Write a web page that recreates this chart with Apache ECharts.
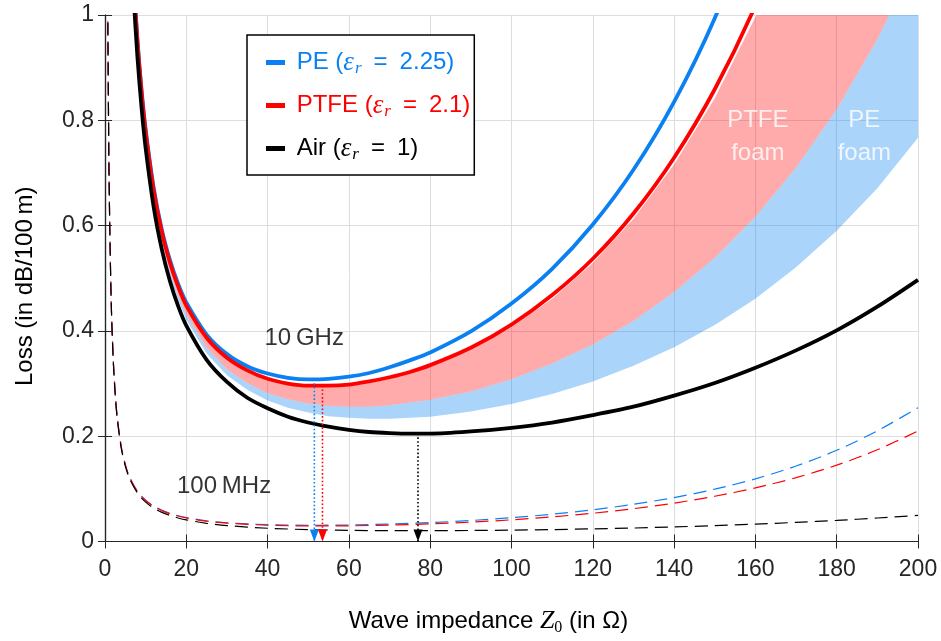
<!DOCTYPE html>
<html>
<head>
<meta charset="utf-8">
<script src="https://cdn.jsdelivr.net/npm/echarts/dist/echarts.min.js"></script>
<style>
  html, body { margin: 0; padding: 0; background: #fff; }
  #chart { width: 941px; height: 641px; }
</style>
</head>
<body>
<div id="chart"></div>
<script>
// Coaxial line attenuation versus wave impedance, solid dielectrics, foams and air.

// 10 GHz curves (solid)
const impedance10 = [7, 8, 9, 10, 12, 14, 16, 18, 20, 25, 30, 35, 40, 45, 50, 55, 60, 65, 70, 75, 80,
  90, 100, 110, 120, 130, 140, 150, 160, 170, 180, 190, 200];
const lossPE10 = [1.073, 0.951, 0.857, 0.783, 0.671, 0.592, 0.534, 0.489, 0.454, 0.393, 0.356, 0.333,
  0.319, 0.311, 0.308, 0.309, 0.313, 0.320, 0.331, 0.344, 0.359, 0.399, 0.452, 0.518, 0.602, 0.706,
  0.835, 0.994, 1.190, 1.433, 1.732, 2.102, 2.559];
const lossPTFE10 = [1.068, 0.947, 0.853, 0.778, 0.666, 0.587, 0.529, 0.484, 0.448, 0.387, 0.349, 0.325,
  0.309, 0.300, 0.296, 0.296, 0.298, 0.304, 0.312, 0.322, 0.335, 0.368, 0.412, 0.468, 0.537, 0.623,
  0.729, 0.859, 1.018, 1.212, 1.450, 1.742, 2.099];
const lossAir10 = [1.039, 0.918, 0.823, 0.747, 0.634, 0.554, 0.494, 0.447, 0.410, 0.345, 0.303, 0.273,
  0.253, 0.237, 0.226, 0.218, 0.212, 0.208, 0.206, 0.205, 0.205, 0.209, 0.216, 0.226, 0.240, 0.256,
  0.277, 0.301, 0.330, 0.363, 0.401, 0.446, 0.497];

// 100 MHz curves (dashed)
const impedance100 = [0.7, 1, 1.5, 2, 2.5, 3, 4, 5, 6, 8, 10, 12, 14, 16, 18, 20, 25, 30, 40, 50, 60,
  70, 80, 90, 100, 110, 120, 130, 140, 150, 160, 170, 180, 190, 200];
const lossPE100 = [0.988, 0.694, 0.466, 0.351, 0.283, 0.237, 0.180, 0.146, 0.123, 0.0951, 0.0783,
  0.0671, 0.0592, 0.0534, 0.0489, 0.0454, 0.0393, 0.0356, 0.0319, 0.0308, 0.0313, 0.0331, 0.0359,
  0.0399, 0.0452, 0.0518, 0.0602, 0.0706, 0.0835, 0.0994, 0.1190, 0.1433, 0.1732, 0.2102, 0.2540];
const lossPTFE100 = [0.987, 0.694, 0.465, 0.351, 0.283, 0.237, 0.180, 0.146, 0.123, 0.0947, 0.0778,
  0.0666, 0.0587, 0.0528, 0.0484, 0.0448, 0.0387, 0.0349, 0.0309, 0.0296, 0.0298, 0.0312, 0.0335,
  0.0368, 0.0412, 0.0468, 0.0537, 0.0623, 0.0729, 0.0859, 0.1018, 0.1212, 0.1450, 0.1742, 0.2099];
const lossAir100 = [0.985, 0.691, 0.463, 0.348, 0.280, 0.234, 0.177, 0.143, 0.120, 0.0918, 0.0747,
  0.0634, 0.0554, 0.0494, 0.0447, 0.0410, 0.0345, 0.0302, 0.0252, 0.0226, 0.0212, 0.0206, 0.0205,
  0.0209, 0.0216, 0.0226, 0.0240, 0.0256, 0.0277, 0.0301, 0.0330, 0.0363, 0.0401, 0.0446, 0.0497];

// Foam bands at 10 GHz: lower PE-foam edge, PE/PTFE foam boundary, upper PTFE-foam edge
const impedanceFoam = [6, 7, 8, 9, 10, 12, 14, 16, 18, 20, 25, 30, 35, 40, 45, 50, 55, 60, 65, 70, 80,
  90, 100, 110, 120, 130, 140, 150, 160, 170, 180, 190, 200];
const foamLow = [1.211, 1.048, 0.926, 0.832, 0.757, 0.644, 0.564, 0.504, 0.458, 0.421, 0.357, 0.316,
  0.288, 0.268, 0.254, 0.245, 0.238, 0.235, 0.233, 0.233, 0.237, 0.247, 0.261, 0.280, 0.304, 0.334,
  0.369, 0.411, 0.461, 0.521, 0.590, 0.671, 0.767];
const foamMid = [1.218, 1.056, 0.934, 0.840, 0.764, 0.652, 0.572, 0.513, 0.467, 0.431, 0.368, 0.327,
  0.301, 0.282, 0.270, 0.262, 0.258, 0.256, 0.256, 0.259, 0.269, 0.285, 0.308, 0.338, 0.374, 0.419,
  0.474, 0.539, 0.617, 0.710, 0.821, 0.954, 1.111];
const foamHigh = [1.230, 1.068, 0.947, 0.853, 0.778, 0.666, 0.587, 0.528, 0.483, 0.447, 0.386, 0.348,
  0.324, 0.308, 0.299, 0.295, 0.294, 0.296, 0.301, 0.309, 0.332, 0.364, 0.407, 0.461, 0.529, 0.613,
  0.716, 0.842, 0.996, 1.185, 1.415, 1.697, 2.042];

// Loss minima (optimum impedance) at 10 GHz
const materials = ['PE', 'PTFE', 'Air'];
const epsR = ['2.25', '2.1', '1'];
const minImpedance = [51.5, 53.5, 77];
const minLoss = [0.308, 0.296, 0.205];

// In-plot annotations
const noteText = ['10\u2009GHz', '100\u2009MHz', 'PTFE\nfoam', 'PE\nfoam'];
const noteImpedance = [49, 29.3, 160.6, 186.8];
const noteLoss = [0.385, 0.104, 0.768, 0.768];

const BLUE = '#0a80f2', RED = '#ff0000', BLACK = '#000000';
const colors = [BLUE, RED, BLACK];
const noteColors = ['#000', '#000', '#fff', '#fff'];
const TEXT = '#262626';
const SANS = 'Liberation Sans, Arial, Helvetica, sans-serif';
const SERIF = 'Liberation Serif, Times New Roman, serif';

const pairs = (xs, ys) => xs.map((x, i) => [x, ys[i]]);

const chart = echarts.init(document.getElementById('chart'), null, { renderer: 'canvas' });

// legend rich-text styles, one set per material colour
const legendRich = {};
colors.forEach((c, i) => {
  legendRich['t' + i] = { color: c, fontFamily: SANS, fontSize: 24, lineHeight: 27 };
  legendRich['m' + i] = { color: c, fontFamily: SERIF, fontStyle: 'italic', fontSize: 27, lineHeight: 27 };
  legendRich['s' + i] = { color: c, fontFamily: SERIF, fontStyle: 'italic', fontSize: 17, lineHeight: 17, padding: [12, 0, 0, 1] };
});

// filled band between two edges, drawn through the cartesian coordinate system
function bandItem(lower, upper, fill) {
  return function (params, api) {
    const pts = [];
    impedanceFoam.forEach((z, i) => pts.push(api.coord([z, upper[i]])));
    for (let i = impedanceFoam.length - 1; i >= 0; i--) pts.push(api.coord([impedanceFoam[i], lower[i]]));
    const cs = params.coordSys;
    return {
      type: 'polygon',
      shape: { points: pts },
      style: { fill: fill, stroke: null },
      clipPath: { type: 'rect', shape: { x: cs.x, y: cs.y, width: cs.width, height: cs.height } }
    };
  };
}

const series = [
  { type: 'custom', name: 'PE foam', renderItem: bandItem(foamLow, foamMid, 'rgba(10,128,242,0.34)'),
    data: [[0, 0]], silent: true, z: 1 },
  { type: 'custom', name: 'PTFE foam', renderItem: bandItem(foamMid, foamHigh, 'rgba(255,0,0,0.33)'),
    data: [[0, 0]], silent: true, z: 1 }
];

// 100 MHz dashed curves
[[lossPE100, BLUE, 'PE 100 MHz'], [lossPTFE100, RED, 'PTFE 100 MHz'], [lossAir100, BLACK, 'Air 100 MHz']]
  .forEach(([ys, c, n]) => series.push({
    type: 'line', name: n, data: pairs(impedance100, ys), symbol: 'none', smooth: 0.3,
    lineStyle: { color: c, width: 1.2, type: [13, 7] }, itemStyle: { color: c }, z: 3, silent: true
  }));

// 10 GHz solid curves
[lossPE10, lossPTFE10, lossAir10].forEach((ys, i) => series.push({
  type: 'line', name: materials[i], data: pairs(impedance10, ys), symbol: 'none', smooth: 0.3,
  lineStyle: { color: colors[i], width: 3.8 }, itemStyle: { color: colors[i] }, z: 4, silent: true
}));

// dotted drop lines from each minimum down to the axis
const arrowHead = 'path://M0,0L10,0L5,12Z';
minImpedance.forEach((z, i) => series.push({
  type: 'line', name: materials[i] + ' optimum', clip: false, silent: true, z: 5,
  data: [
    { value: [z, minLoss[i]], symbol: 'none' },
    { value: [z, 0], symbol: arrowHead, symbolSize: [9, 12], symbolOffset: [0, '-50%'] }
  ],
  showSymbol: true, symbol: arrowHead,
  lineStyle: { color: colors[i], width: 1.6, type: [1.6, 2.2] },
  itemStyle: { color: colors[i] }
}));

// text annotations placed in data coordinates
series.push({
  type: 'scatter', name: 'notes', symbolSize: 0, silent: true, z: 6,
  data: noteText.map((t, i) => ({
    value: [noteImpedance[i], noteLoss[i]],
    label: { show: true, position: 'inside', formatter: t, color: noteColors[i],
      fontFamily: SANS, fontSize: 24, lineHeight: 33 }
  }))
});

const axisLine = { show: true, lineStyle: { color: TEXT, width: 1.2 } };
const axisTickIn = { show: true, inside: true, length: 7, lineStyle: { color: TEXT, width: 1 } };

chart.setOption({
  animation: false,
  backgroundColor: '#fff',
  grid: { left: 105, right: 23, top: 15, bottom: 99, containLabel: false },
  legend: {
    orient: 'vertical', left: 247, top: 35,
    data: materials.map(m => ({ name: m })),
    icon: 'rect', itemWidth: 19, itemHeight: 5, itemGap: 14,
    padding: [13, 4, 12, 19],
    borderColor: '#000', borderWidth: 1.5, borderRadius: 0,
    backgroundColor: '#fff',
    selectedMode: false,
    formatter: name => {
      const i = materials.indexOf(name);
      return `{t${i}| ${name} (}{m${i}|ε}{s${i}|r}{t${i}|\u2002=\u2002${epsR[i]})}`;
    },
    textStyle: { fontFamily: SANS, fontSize: 24, rich: legendRich }
  },
  xAxis: [
    {
      type: 'value', min: 0, max: 200, interval: 20, position: 'bottom',
      name: '{t|Wave impedance }{m|Z}{s|0}{t| (in Ω)}',
      nameLocation: 'middle', nameGap: 65,
      nameTextStyle: {
        padding: [0, 46, 0, 0],
        rich: {
          t: { fontFamily: SANS, fontSize: 24, color: '#000', lineHeight: 30 },
          m: { fontFamily: SERIF, fontStyle: 'italic', fontSize: 26, color: '#000', lineHeight: 30 },
          s: { fontFamily: SERIF, fontSize: 16, color: '#000', lineHeight: 16, padding: [13, 0, 0, 0] }
        }
      },
      axisLine, axisTick: axisTickIn,
      axisLabel: { color: TEXT, fontFamily: SANS, fontSize: 23, margin: 17 },
      splitLine: { show: true, lineStyle: { color: '#dedede', width: 1 } }
    },
    {
      type: 'value', min: 0, max: 200, interval: 20, position: 'top',
      axisLine, axisTick: axisTickIn, axisLabel: { show: false }, splitLine: { show: false }
    }
  ],
  yAxis: [
    {
      type: 'value', min: 0, max: 1, interval: 0.2, position: 'left',
      name: 'Loss (in dB/100\u2009m)', nameLocation: 'middle', nameGap: 68, nameRotate: 90,
      nameTextStyle: { fontFamily: SANS, fontSize: 24, color: '#000', padding: [0, 16, 0, 0] },
      axisLine, axisTick: axisTickIn,
      axisLabel: { color: TEXT, fontFamily: SANS, fontSize: 23, margin: 11 },
      splitLine: { show: true, lineStyle: { color: '#dedede', width: 1 } }
    },
    {
      type: 'value', min: 0, max: 1, interval: 0.2, position: 'right',
      axisLine, axisTick: axisTickIn, axisLabel: { show: false }, splitLine: { show: false }
    }
  ],
  series
});
</script>
</body>
</html>
